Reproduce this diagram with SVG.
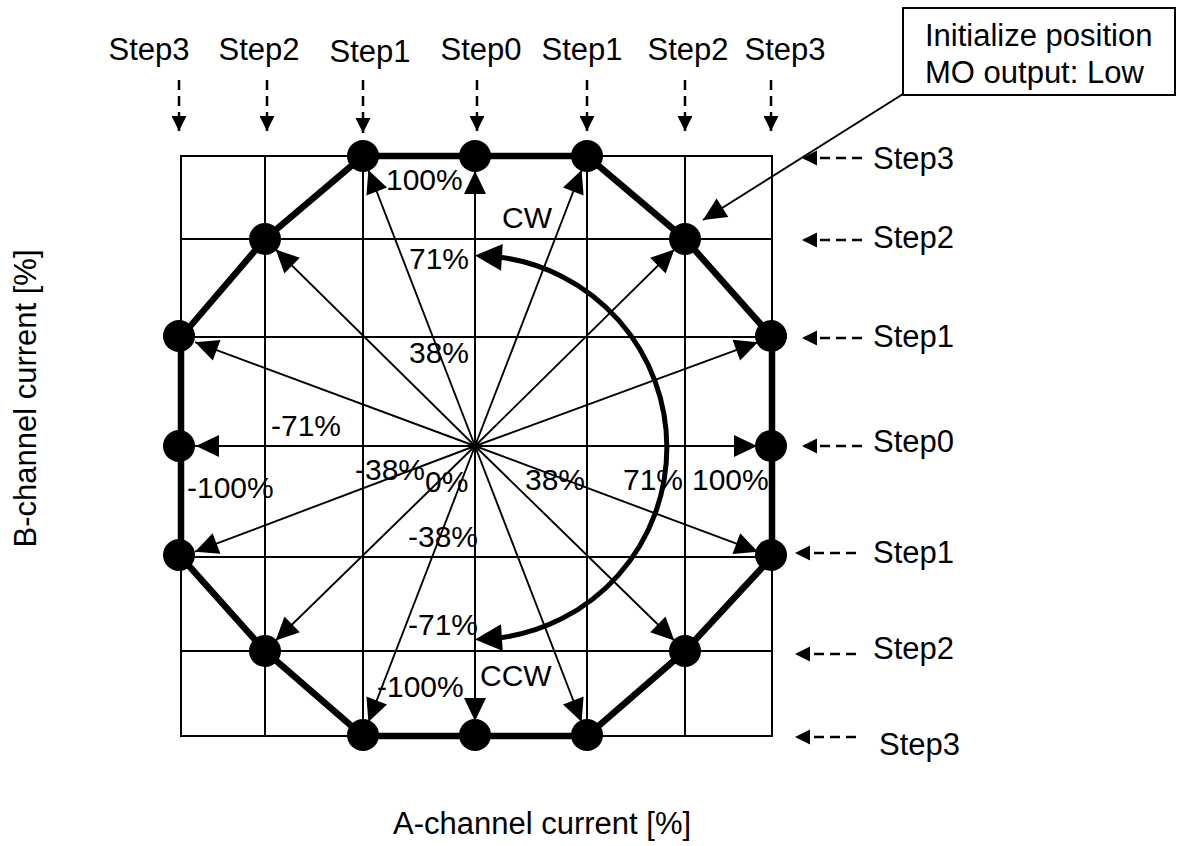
<svg xmlns="http://www.w3.org/2000/svg" width="1184" height="846" viewBox="0 0 1184 846">
<style>
text{font-family:"Liberation Sans",Arial,sans-serif;fill:#000}
.lbl{font-size:31px}
.pct{font-size:30px}
.grid{stroke:#000;stroke-width:2;fill:none}
.vec{stroke:#000;stroke-width:1.9;fill:none}
.dash{stroke:#000;stroke-width:2.5;stroke-dasharray:10,6;fill:none}
.dot{fill:#000}
</style>
<defs>
<marker id="ah" markerUnits="userSpaceOnUse" markerWidth="23" markerHeight="22" viewBox="0 0 23 22" refX="23" refY="11" orient="auto" overflow="visible"><path d="M0,0 L23,11 L0,22 z" fill="#000" stroke="none"/></marker>
<marker id="sah" markerUnits="userSpaceOnUse" markerWidth="15" markerHeight="15" viewBox="0 0 15 15" refX="15" refY="7.5" orient="auto" overflow="visible"><path d="M0,0 L15,7.5 L0,15 z" fill="#000" stroke="none"/></marker>
</defs>
<rect width="1184" height="846" fill="#fff"/>

<g id="grid" class="grid">
<rect x="181" y="156" width="591" height="580"/>
<path d="M265,156V736M363,156V736M475,156V736M587,156V736M685,156V736M181,239H772M181,337H772M181,446H772M181,557H772M181,651H772"/>
</g>

<g id="connectors">
<g class="vec" marker-end="url(#ah)">
<line x1="475" y1="446" x2="368.4" y2="170"/>
<line x1="475" y1="446" x2="475" y2="171"/>
<line x1="475" y1="446" x2="581.6" y2="170"/>
<line x1="475" y1="446" x2="674.3" y2="249.5"/>
<line x1="475" y1="446" x2="757.9" y2="342.2"/>
<line x1="475" y1="446" x2="757" y2="446"/>
<line x1="475" y1="446" x2="757.9" y2="551.7"/>
<line x1="475" y1="446" x2="674.3" y2="640.5"/>
<line x1="475" y1="446" x2="581.6" y2="722"/>
<line x1="475" y1="446" x2="475" y2="721"/>
<line x1="475" y1="446" x2="368.4" y2="722"/>
<line x1="475" y1="446" x2="275.7" y2="640.5"/>
<line x1="475" y1="446" x2="195" y2="551.7"/>
<line x1="475" y1="446" x2="196" y2="446"/>
<line x1="475" y1="446" x2="195.1" y2="342.2"/>
<line x1="475" y1="446" x2="275.7" y2="249.5"/>
</g>
<polygon points="363,156 475,156 587,156 685,239 772,337 772,446 772,557 685,651 587,736 475,736 363,736 265,651 181,557 181,446 181,337 265,239" fill="none" stroke="#000" stroke-width="6.5" stroke-linejoin="round"/>
<path d="M498,256.9 A192,192 0 0 1 498,638.1" fill="none" stroke="#000" stroke-width="5"/>
<polygon points="475,255.5 501,270.8 502.8,244" fill="#000"/>
<polygon points="475,639.5 501,624.2 502.8,651" fill="#000"/>
<g marker-end="url(#sah)" class="dash">
<line x1="179" y1="80" x2="179" y2="131"/>
<line x1="267" y1="80" x2="267" y2="131"/>
<line x1="363" y1="80" x2="363" y2="133"/>
<line x1="477" y1="80" x2="477" y2="131"/>
<line x1="587" y1="80" x2="587" y2="131"/>
<line x1="685" y1="80" x2="685" y2="131"/>
<line x1="771" y1="80" x2="771" y2="131"/>
<line x1="862" y1="158" x2="802" y2="158"/>
<line x1="862" y1="240" x2="802" y2="240"/>
<line x1="862" y1="338" x2="802" y2="338"/>
<line x1="862" y1="446" x2="802" y2="446"/>
<line x1="856" y1="553" x2="795" y2="553"/>
<line x1="856" y1="654" x2="795" y2="654"/>
<line x1="856" y1="737" x2="795" y2="737"/>
</g>
<line x1="903" y1="94" x2="703" y2="220" stroke="#000" stroke-width="2" marker-end="url(#ah)"/>
</g>

<g id="dots" class="dot">
<circle id="n1" cx="363" cy="156" r="16"/>
<circle id="n2" cx="475" cy="156" r="16"/>
<circle id="n3" cx="587" cy="156" r="16"/>
<circle id="n4" cx="685" cy="239" r="16"/>
<circle id="n5" cx="771" cy="336" r="16"/>
<circle id="n6" cx="771" cy="446" r="16"/>
<circle id="n7" cx="771" cy="555" r="16"/>
<circle id="n8" cx="685" cy="651" r="16"/>
<circle id="n9" cx="587" cy="735" r="16"/>
<circle id="n10" cx="475" cy="735" r="16"/>
<circle id="n11" cx="363" cy="735" r="16"/>
<circle id="n12" cx="265" cy="651" r="16"/>
<circle id="n13" cx="179" cy="555" r="16"/>
<circle id="n14" cx="179" cy="446" r="16"/>
<circle id="n15" cx="179" cy="336" r="16"/>
<circle id="n16" cx="265" cy="239" r="16"/>
</g>

<g id="box">
<rect x="903" y="8" width="272" height="87" fill="#fff" stroke="#000" stroke-width="2"/>
<text class="lbl" x="925" y="46">Initialize position</text>
<text class="lbl" x="925" y="83">MO output: Low</text>
</g>

<g id="top-steps" class="lbl" text-anchor="middle">
<text x="149" y="60">Step3</text>
<text x="259" y="60">Step2</text>
<text x="370" y="62">Step1</text>
<text x="481" y="60">Step0</text>
<text x="582" y="60">Step1</text>
<text x="688" y="60">Step2</text>
<text x="785" y="60">Step3</text>
</g>

<g id="right-steps" class="lbl">
<text x="873" y="169">Step3</text>
<text x="873" y="248">Step2</text>
<text x="873" y="347">Step1</text>
<text x="873" y="452">Step0</text>
<text x="873" y="563">Step1</text>
<text x="873" y="659">Step2</text>
<text x="879" y="755">Step3</text>
</g>

<g id="pct-labels" class="pct">
<text x="386" y="190">100%</text>
<text x="409" y="269">71%</text>
<text x="409" y="363">38%</text>
<text x="271" y="436">-71%</text>
<text x="355" y="480">-38%</text>
<text x="425" y="492">0%</text>
<text x="187" y="498">-100%</text>
<text x="408" y="547">-38%</text>
<text x="408" y="635">-71%</text>
<text x="377" y="697">-100%</text>
<text x="525" y="490">38%</text>
<text x="623" y="490">71%</text>
<text x="692" y="490">100%</text>
<text x="502" y="228">CW</text>
<text x="480" y="686">CCW</text>
</g>

<g id="axes" class="lbl">
<text x="393" y="834">A-channel current [%]</text>
<text transform="translate(36,398.5) rotate(-90)" text-anchor="middle">B-channel current [%]</text>
</g>
</svg>
